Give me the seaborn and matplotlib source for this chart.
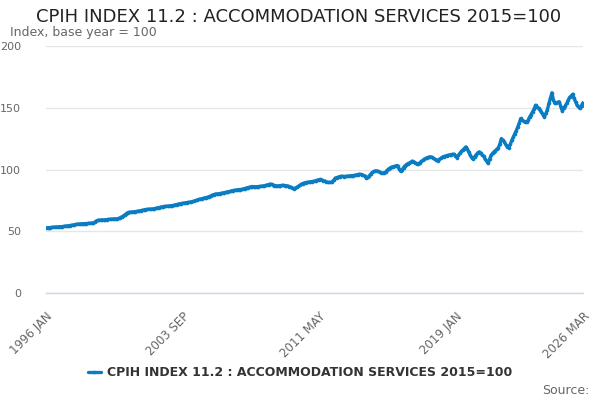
import numpy as np
import pandas as pd
import seaborn as sns
import matplotlib
matplotlib.use("Agg")
import matplotlib.pyplot as plt

# monthly index values, one list per year (Jan..Dec)
y1996 = [52.7, 52.8, 52.9, 53.0, 53.2, 53.3, 53.4, 53.5, 53.5, 53.6, 53.7, 53.8]
y1997 = [54.0, 54.1, 54.3, 54.4, 54.6, 54.8, 55.0, 55.3, 55.5, 55.7, 55.8, 55.9]
y1998 = [56.0, 56.1, 56.2, 56.2, 56.3, 56.4, 56.5, 56.6, 56.8, 57.5, 58.4, 58.9]
y1999 = [59.0, 59.1, 59.2, 59.2, 59.3, 59.4, 59.6, 59.7, 59.8, 59.9, 60.0, 60.0]
y2000 = [60.1, 60.4, 60.9, 61.6, 62.3, 63.2, 64.2, 65.0, 65.4, 65.5, 65.6, 65.7]
y2001 = [65.9, 66.0, 66.2, 66.5, 66.7, 67.0, 67.3, 67.6, 67.7, 67.8, 67.9, 68.0]
y2002 = [68.1, 68.3, 68.6, 68.9, 69.1, 69.4, 69.7, 70.0, 70.1, 70.2, 70.3, 70.5]
y2003 = [70.6, 70.8, 71.0, 71.3, 71.6, 71.9, 72.2, 72.4, 72.6, 72.8, 73.0, 73.2]
y2004 = [73.4, 73.6, 73.8, 74.1, 74.5, 74.9, 75.3, 75.8, 76.0, 76.3, 76.6, 77.0]
y2005 = [77.3, 77.6, 78.0, 78.6, 79.2, 79.6, 80.0, 80.3, 80.2, 80.4, 80.7, 81.0]
y2006 = [81.2, 81.5, 81.8, 82.0, 82.3, 82.6, 82.9, 83.2, 83.3, 83.5, 83.7, 83.8]
y2007 = [83.9, 84.2, 84.6, 85.0, 85.3, 85.6, 85.9, 86.2, 86.1, 86.0, 86.1, 86.2]
y2008 = [86.3, 86.4, 86.6, 86.9, 87.1, 87.4, 87.8, 88.2, 88.0, 87.5, 87.0, 86.8]
y2009 = [86.7, 86.8, 87.0, 87.1, 87.2, 87.0, 86.9, 86.6, 86.2, 85.7, 85.0, 84.6]
y2010 = [84.8, 85.5, 86.3, 87.2, 88.0, 88.6, 89.1, 89.4, 89.6, 89.8, 90.0, 90.2]
y2011 = [90.3, 90.6, 91.0, 91.4, 91.7, 92.0, 91.5, 91.0, 90.6, 90.0, 89.6, 89.5]
y2012 = [89.6, 90.2, 91.5, 93.0, 93.5, 93.8, 94.2, 94.6, 94.4, 94.3, 94.5, 94.6]
y2013 = [94.7, 94.8, 95.0, 95.1, 95.3, 95.5, 95.8, 96.2, 96.0, 95.6, 95.2, 94.8]
y2014 = [92.8, 93.6, 95.0, 96.4, 97.6, 98.4, 98.8, 98.9, 98.4, 97.9, 97.4, 97.2]
y2015 = [97.2, 98.0, 99.4, 100.5, 101.3, 102.0, 102.3, 102.6, 103.0, 103.2, 100.5, 98.6]
y2016 = [99.5, 101.5, 103.0, 104.0, 104.8, 105.3, 106.0, 106.8, 106.2, 105.4, 104.8, 104.3]
y2017 = [105.5, 106.5, 107.5, 108.4, 109.0, 109.6, 110.0, 110.3, 110.0, 109.2, 108.4, 107.8]
y2018 = [107.0, 108.1, 109.0, 109.8, 110.4, 110.8, 111.2, 111.5, 111.8, 112.0, 112.3, 112.4]
y2019 = [111.0, 109.7, 111.5, 113.2, 114.6, 115.8, 117.0, 118.3, 116.5, 114.0, 111.5, 109.5]
y2020 = [108.9, 110.5, 112.0, 113.4, 114.3, 113.5, 111.8, 110.8, 108.5, 106.8, 104.9, 108.2]
y2021 = [111.5, 113.0, 114.3, 115.3, 116.5, 117.8, 121.0, 125.1, 123.5, 122.4, 120.0, 118.5]
y2022 = [117.8, 120.5, 123.6, 126.4, 129.0, 131.5, 134.5, 137.5, 141.3, 140.0, 139.0, 138.3]
y2023 = [138.1, 140.0, 142.5, 144.5, 146.7, 149.0, 152.1, 150.5, 149.5, 148.1, 146.5, 144.5]
y2024 = [142.6, 145.5, 148.5, 153.5, 157.5, 162.1, 156.5, 153.5, 154.0, 154.5, 154.8, 151.0]
y2025 = [147.5, 149.5, 151.5, 153.5, 156.2, 158.5, 159.5, 161.0, 157.5, 154.8, 152.0, 150.5]
y2026 = [149.4, 151.8, 154.2]

years = [y1996, y1997, y1998, y1999, y2000, y2001, y2002, y2003, y2004, y2005,
         y2006, y2007, y2008, y2009, y2010, y2011, y2012, y2013, y2014, y2015,
         y2016, y2017, y2018, y2019, y2020, y2021, y2022, y2023, y2024, y2025, y2026]
values = [v for yr in years for v in yr]

months = ["JAN", "FEB", "MAR", "APR", "MAY", "JUN", "JUL", "AUG", "SEP", "OCT", "NOV", "DEC"]
label = "CPIH INDEX 11.2 : ACCOMMODATION SERVICES 2015=100"

df = pd.DataFrame({"idx": np.arange(len(values)), "value": values})

sns.set_style("white")
plt.rcParams['font.family'] = ['DejaVu Sans']

fig = plt.figure(figsize=(6, 4), dpi=100)
ax = fig.add_axes([0.0767, 0.2675, 0.895, 0.6175])

sns.lineplot(data=df, x="idx", y="value", ax=ax, color="#0a7cc4", linewidth=2.4,
             marker="o", markersize=2.6, markeredgewidth=0, label=label)

ax.set_ylim(0, 200)
ax.set_xlim(0, len(values) - 1)
ax.set_yticks([0, 50, 100, 150, 200])
ax.yaxis.grid(True, color="#e6e6e6", linewidth=1)
ax.set_axisbelow(True)
ax.tick_params(axis="y", length=0, pad=18, labelsize=8, labelcolor="#666666")

last = len(values) - 1
ticks = list(range(0, last, 23)) + [last]
labels = []
for t in ticks:
    if t % 92 == 0 or t == last:
        labels.append(f"{1996 + t // 12} {months[t % 12]}")
    else:
        labels.append("")
ax.set_xticks(ticks)
ax.set_xticklabels(labels, rotation=45, ha="right", rotation_mode="anchor")
ax.tick_params(axis="x", length=10, width=1, color="#ccd6eb", labelsize=8.5,
               labelcolor="#666666", pad=2)

for s in ["left", "right", "top"]:
    ax.spines[s].set_visible(False)
ax.spines["bottom"].set_color("#ccd6eb")
ax.spines["bottom"].set_linewidth(1)
ax.set_xlabel("")
ax.set_ylabel("")

fig.text(0.497, 0.957, label, ha="center", va="center", fontsize=13, color="#222222")
fig.text(0.017, 0.918, "Index, base year = 100", ha="left", va="center", fontsize=9, color="#666666")

leg = ax.legend(loc="center", bbox_to_anchor=(0.5, 0.068), bbox_transform=fig.transFigure,
                frameon=False, handlelength=1.0, handletextpad=0.5,
                prop={"size": 9, "weight": "bold"})
for t in leg.get_texts():
    t.set_color("#333333")

fig.text(0.982, 0.025, "Source:", ha="right", va="center", fontsize=9, color="#666666")

fig.savefig("out.png", dpi=100)
